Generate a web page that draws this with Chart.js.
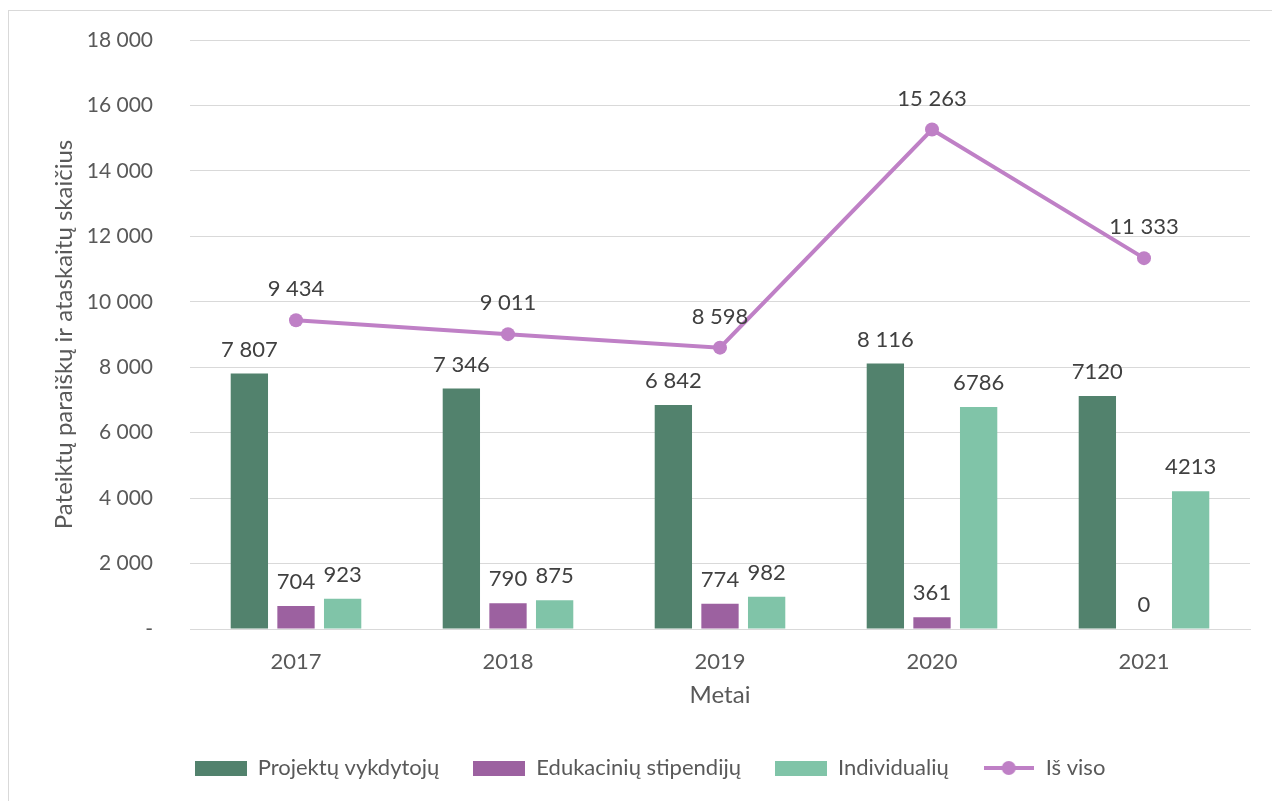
<!DOCTYPE html>
<html><head><meta charset="utf-8">
<script src="https://cdn.jsdelivr.net/npm/chart.js@4"></script>
<style>
html,body{margin:0;padding:0;background:#fff;}
#wrap{position:relative;width:1272px;height:801px;}
#frame{position:absolute;left:8px;top:10px;width:1280px;height:800px;border:1px solid #d9d9d9;box-sizing:border-box;pointer-events:none;}
canvas{position:absolute;left:0;top:0;}
</style></head><body>
<div id="wrap"><canvas id="c" width="1272" height="801"></canvas><div id="frame"></div></div>
<script>
const categories = ['2017','2018','2019','2020','2021'];
const projektu = [7807, 7346, 6842, 8116, 7120];
const edukaciniu = [704, 790, 774, 361, 0];
const individualiu = [923, 875, 982, 6786, 4213];
const isViso = [9434, 9011, 8598, 15263, 11333];
const projektuLabels = ['7 807','7 346','6 842','8 116','7120'];
const edukaciniuLabels = ['704','790','774','361','0'];
const individualiuLabels = ['923','875','982','6786','4213'];
const isVisoLabels = ['9 434','9 011','8 598','15 263','11 333'];
const seriesNames = ['Projektų vykdytojų','Edukacinių stipendijų','Individualių','Iš viso'];
const colors = ['#52826D','#9C61A0','#80C4A8','#BF80C6'];

const FONT = 'Lato, "Open Sans", sans-serif';

function boxImg(color){
  const c=document.createElement('canvas'); c.width=52; c.height=15;
  const x=c.getContext('2d'); x.fillStyle=color; x.fillRect(0,0,52,15); return c;
}
function lineImg(color){
  const c=document.createElement('canvas'); c.width=50; c.height=16;
  const x=c.getContext('2d'); x.strokeStyle=color; x.lineWidth=4;
  x.beginPath(); x.moveTo(0,8); x.lineTo(50,8); x.stroke();
  x.fillStyle=color; x.beginPath(); x.arc(25,8,7,0,Math.PI*2); x.fill(); return c;
}
const legendImgs=[boxImg(colors[0]),boxImg(colors[1]),boxImg(colors[2]),lineImg(colors[3])];

const dataLabels = {
  id:'dataLabels',
  afterDatasetsDraw(chart){
    const ctx=chart.ctx;
    ctx.save();
    ctx.font='22px '+FONT; ctx.fillStyle='#404040'; ctx.textAlign='center'; ctx.textBaseline='middle';
    chart.data.datasets.forEach((ds,i)=>{
      const meta=chart.getDatasetMeta(i);
      const off = ds.type==='line'?31:24;
      meta.data.forEach((el,j)=>{ ctx.fillText(ds.labelsText[j], el.x, el.y-off); });
    });
    ctx.restore();
  }
};

new Chart(document.getElementById('c'),{
  data:{
    labels:categories,
    datasets:[
      {type:'bar',label:seriesNames[0],data:projektu,backgroundColor:colors[0],labelsText:projektuLabels,order:2},
      {type:'bar',label:seriesNames[1],data:edukaciniu,backgroundColor:colors[1],labelsText:edukaciniuLabels,order:2},
      {type:'bar',label:seriesNames[2],data:individualiu,backgroundColor:colors[2],labelsText:individualiuLabels,order:2},
      {type:'line',label:seriesNames[3],data:isViso,borderColor:colors[3],backgroundColor:colors[3],borderWidth:4,pointRadius:7,pointBackgroundColor:colors[3],pointBorderWidth:0,labelsText:isVisoLabels,order:1,tension:0}
    ]
  },
  options:{
    responsive:false,animation:false,
    datasets:{bar:{categoryPercentage:0.66,barPercentage:0.8}},
    layout:{padding:{left:50,right:22,top:40,bottom:12}},
    plugins:{
      tooltip:{enabled:false},
      legend:{
        position:'bottom',
        labels:{
          usePointStyle:true,pointStyleWidth:52,boxHeight:16,padding:34,
          font:{family:FONT,size:22},color:'#595959',
          generateLabels(chart){
            return seriesNames.map((n,i)=>({text:n,pointStyle:legendImgs[i],fillStyle:colors[i],strokeStyle:colors[i],lineWidth:0,hidden:false,datasetIndex:i,fontColor:'#595959'}));
          }
        }
      }
    },
    scales:{
      x:{
        grid:{display:false},
        border:{display:true,color:'#d9d9d9'},
        ticks:{font:{family:FONT,size:22},color:'#595959',padding:12},
        title:{display:true,text:'Metai',font:{family:FONT,size:24},color:'#595959',padding:{top:8,bottom:13}},
        afterFit(s){s.height=94;}
      },
      y:{
        min:0,max:18000,
        grid:{color:'#d9d9d9',drawTicks:false},
        border:{display:false},
        ticks:{stepSize:2000,font:{family:FONT,size:21},color:'#595959',padding:37,
          callback:v=> v===0?'-':String(v).replace(/\B(?=(\d{3})+(?!\d))/g,' ')},
        title:{display:true,text:'Pateiktų paraiškų ir ataskaitų skaičius',font:{family:FONT,size:24},color:'#595959',padding:0},
        afterFit(s){s.width=140; s.paddingTop=0; s.paddingBottom=0;}
      }
    }
  },
  plugins:[dataLabels]
});
</script>
</body></html>
